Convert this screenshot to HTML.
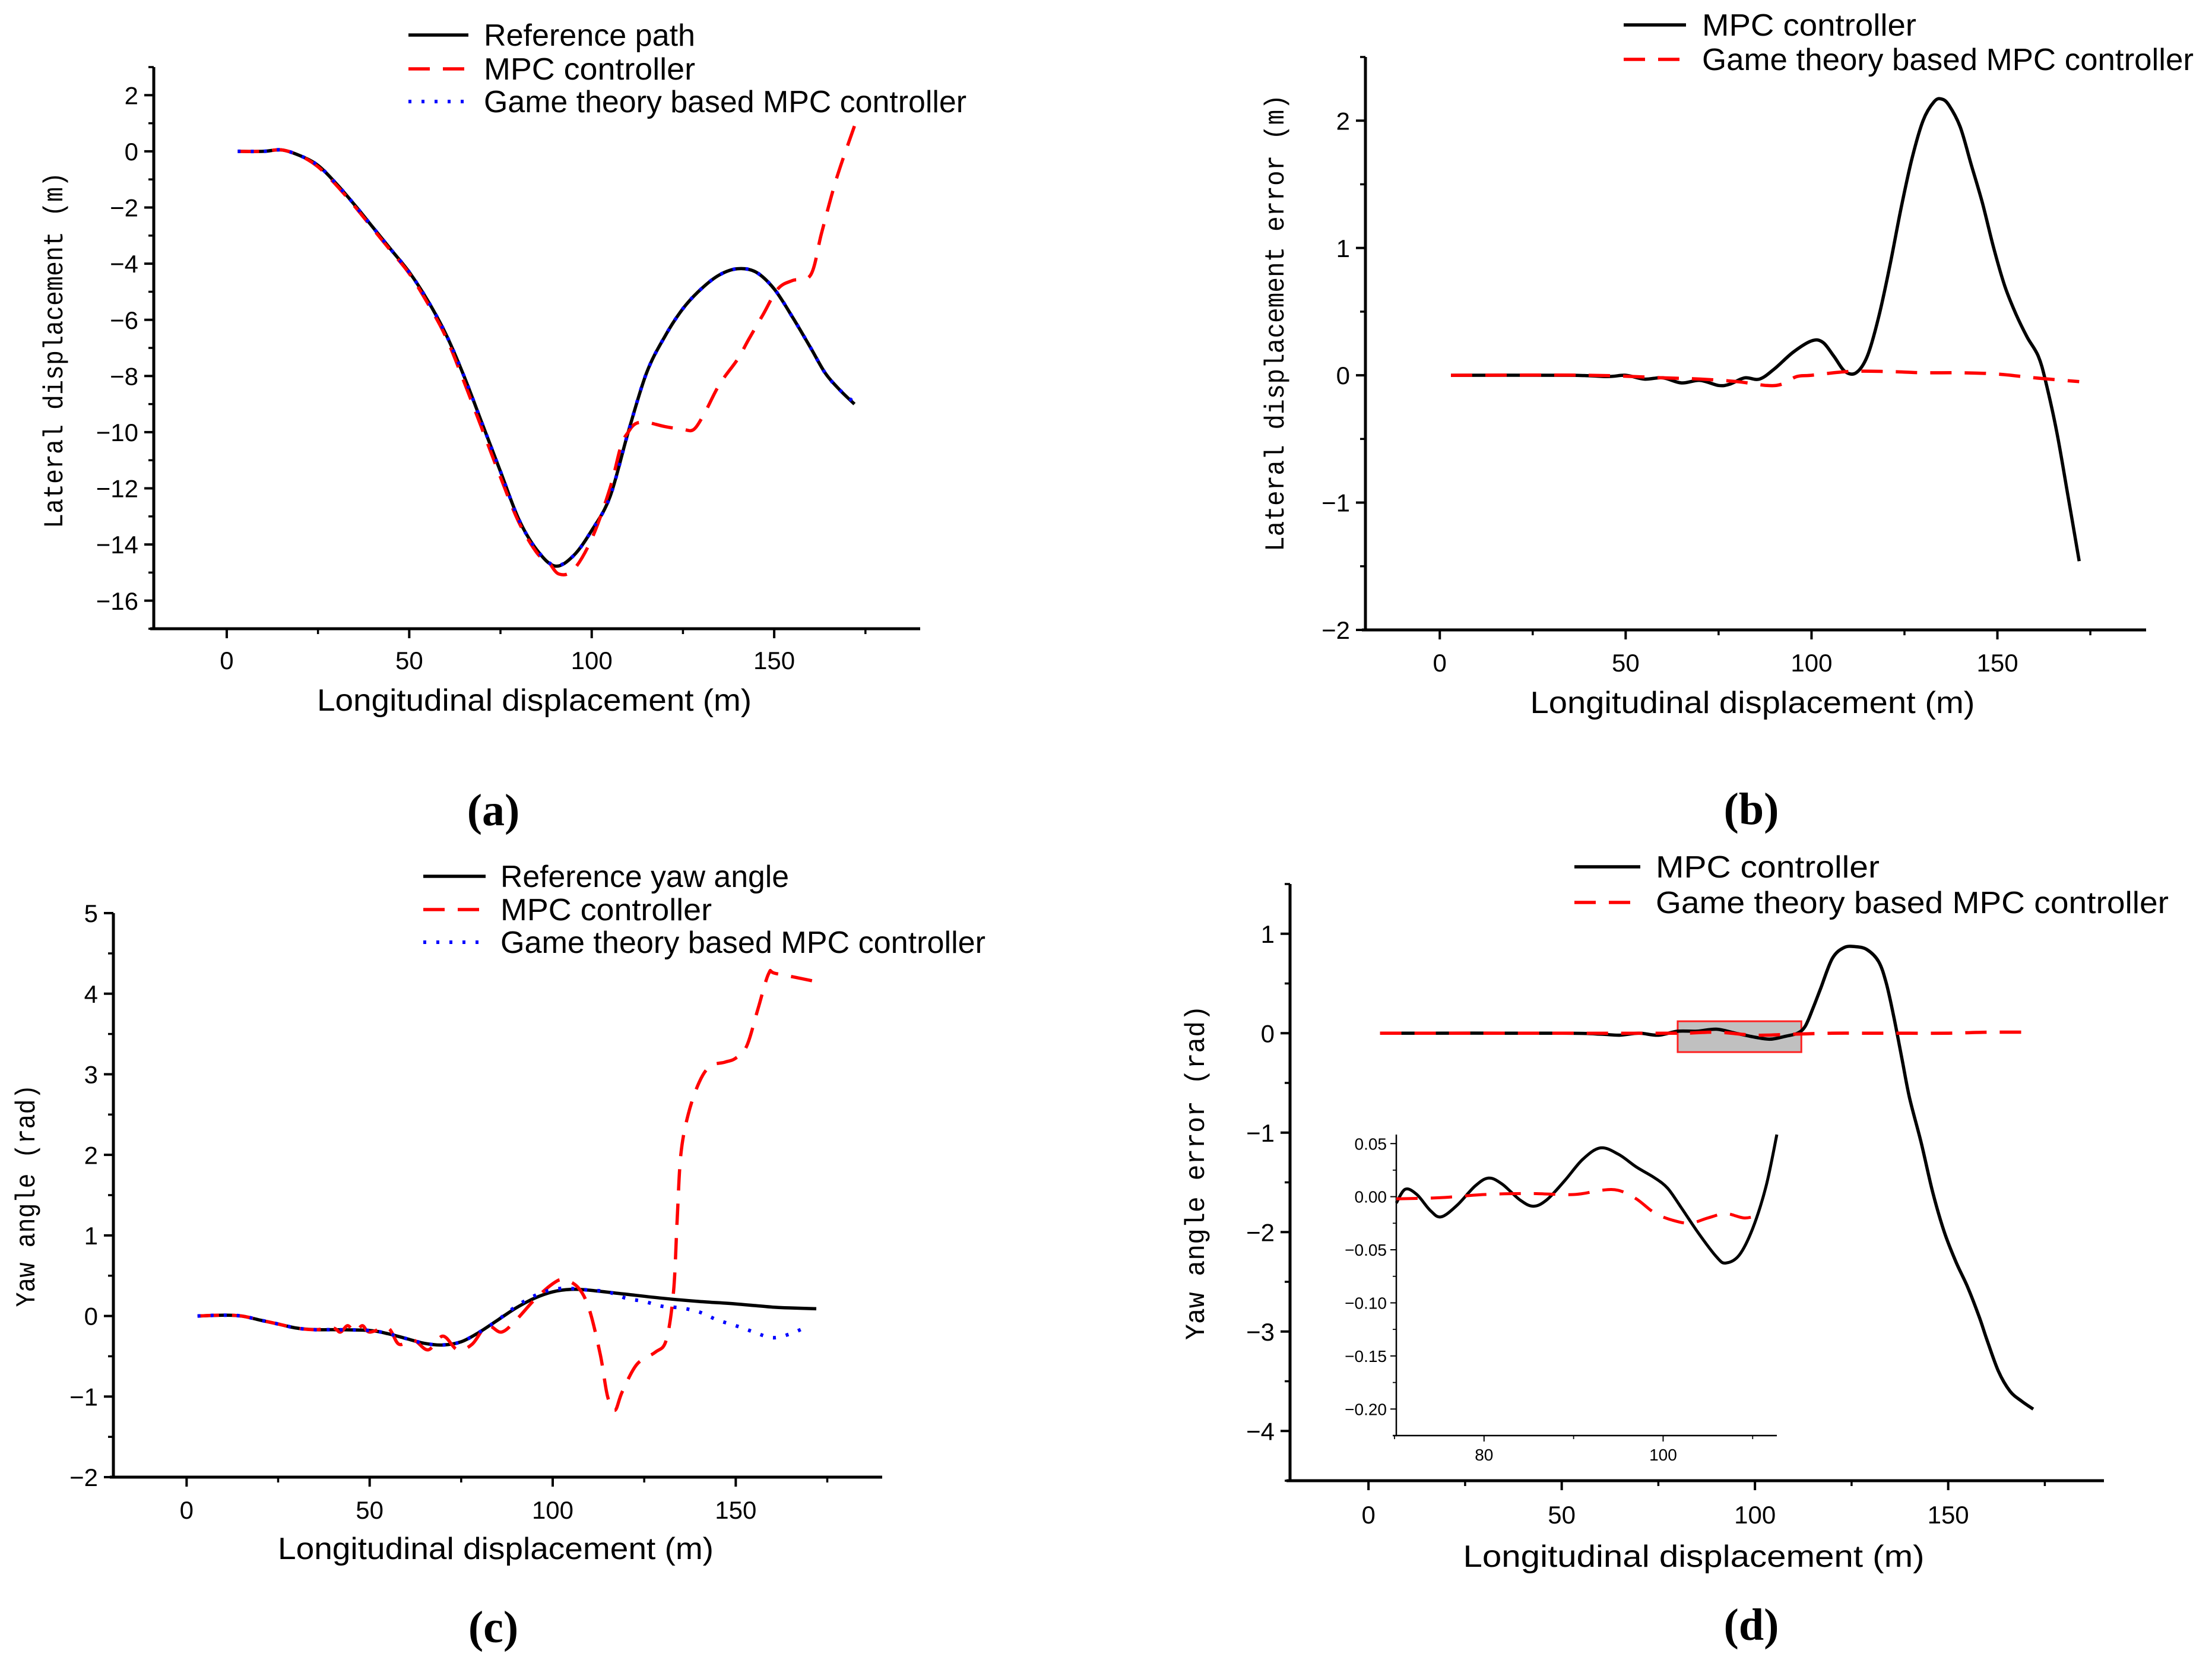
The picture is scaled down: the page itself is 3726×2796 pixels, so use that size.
<!DOCTYPE html>
<html><head><meta charset="utf-8"><style>html,body{margin:0;padding:0;background:#fff}svg{display:block}</style></head>
<body>
<svg id="fig" xmlns="http://www.w3.org/2000/svg" width="3726" height="2796" viewBox="0 0 3726 2796">
<rect width="3726" height="2796" fill="#fff"/>
</svg>
<script>
// ---------- data (a) ----------
const aRefX=[3,10,15,20,25,30,35,40,45,50,55,60,65,70,75,80,85,90,95,100,105,110,115,120,125,130,135,140,145,150,155,160,164,168,172];
const aRefY=[0,0,0.05,-0.15,-0.5,-1.15,-1.9,-2.7,-3.5,-4.3,-5.3,-6.5,-8.0,-9.7,-11.4,-13.1,-14.2,-14.77,-14.4,-13.5,-12.3,-10.0,-7.9,-6.6,-5.6,-4.9,-4.4,-4.18,-4.3,-4.9,-5.9,-7.0,-7.9,-8.5,-9.0];
const aMpcX=[3,10,15,20,25,30,35,40,45,50,55,60,65,70,75,80,85,88,91,95,100,105,108,110,112,115,120,125,128,131,135,140,143,147,151,155,160,163,167,172];
const aMpcY=[0,0,0.05,-0.15,-0.55,-1.2,-1.95,-2.75,-3.55,-4.35,-5.4,-6.6,-8.2,-9.9,-11.6,-13.2,-14.3,-14.6,-15.05,-14.9,-13.8,-12.0,-10.5,-10.0,-9.7,-9.65,-9.8,-9.9,-9.9,-9.3,-8.3,-7.4,-6.7,-5.8,-4.9,-4.6,-4.4,-2.9,-1.0,0.9];
const aGameX=aRefX;
const aGameY=[0,0,0.05,-0.15,-0.5,-1.15,-1.9,-2.7,-3.5,-4.3,-5.3,-6.5,-8.0,-9.7,-11.4,-13.1,-14.2,-14.75,-14.4,-13.5,-12.3,-10.0,-7.9,-6.6,-5.6,-4.9,-4.4,-4.18,-4.3,-4.9,-5.9,-7.0,-7.9,-8.5,-8.95];
// ---------- data (b) ----------
const bMpcX=[3,35,45,50,55,60,65,70,75,78,82,86,90,95,100,103,106,109,112,115,118,121,124,127,130,133,135,137,140,143,146,149,152,155,158,161,163,166,169,172];
const bMpcY=[0,0,-0.01,0,-0.03,-0.02,-0.06,-0.04,-0.08,-0.07,-0.02,-0.03,0.05,0.18,0.27,0.26,0.15,0.03,0.02,0.15,0.45,0.85,1.3,1.7,2.0,2.15,2.17,2.12,1.95,1.65,1.35,1.0,0.7,0.48,0.3,0.15,-0.05,-0.45,-0.95,-1.46];
const bGameX=[3,40,60,70,80,88,92,96,100,110,120,130,140,150,160,172];
const bGameY=[0,0,-0.02,-0.03,-0.05,-0.08,-0.07,-0.01,0,0.03,0.03,0.02,0.02,0.01,-0.02,-0.05];
// ---------- data (c) ----------
const cRefX=[3,10,15,20,25,30,35,40,50,55,60,65,70,75,80,85,90,95,100,105,110,120,130,140,150,160,165,172];
const cRefY=[0,0.01,0,-0.05,-0.1,-0.15,-0.17,-0.17,-0.18,-0.22,-0.28,-0.34,-0.36,-0.32,-0.2,-0.05,0.1,0.22,0.3,0.33,0.32,0.27,0.22,0.18,0.15,0.11,0.1,0.09];
const cMpcX=[3,10,15,20,25,30,35,40,42,44,46,48,50,55,58,62,66,70,74,78,82,86,90,95,100,103,107,110,113,115,117,119,123,128,131,133,134,135,137,140,143,147,150,153,156,159,161,172];
const cMpcY=[0,0.01,0,-0.05,-0.1,-0.15,-0.17,-0.15,-0.2,-0.12,-0.2,-0.12,-0.2,-0.15,-0.35,-0.3,-0.42,-0.25,-0.42,-0.35,-0.12,-0.2,-0.05,0.2,0.4,0.45,0.35,0.08,-0.48,-1.0,-1.17,-0.94,-0.6,-0.45,-0.3,0.3,1.2,2.0,2.5,2.9,3.1,3.15,3.2,3.35,3.8,4.25,4.25,4.15];
const cGameX=[3,10,15,20,25,30,35,40,50,55,60,65,70,75,80,85,90,95,100,105,110,115,120,125,130,135,140,145,150,155,160,165,170];
const cGameY=[0,0.01,0,-0.05,-0.1,-0.15,-0.17,-0.17,-0.18,-0.22,-0.28,-0.34,-0.36,-0.32,-0.2,-0.05,0.12,0.25,0.33,0.34,0.32,0.3,0.22,0.18,0.12,0.1,0.05,-0.05,-0.12,-0.2,-0.27,-0.22,-0.12];
// ---------- data (d) ----------
const dMpcX=[3,50,60,65,70,75,80,85,90,95,100,104,108,111,113,115,117,120,123,126,129,132,134,136,138,140,143,146,149,152,155,158,160,163,166,169,172];
const dMpcY=[0,0,-0.01,-0.02,0,-0.02,0.02,0.02,0.04,0,-0.04,-0.06,-0.03,0,0.07,0.25,0.45,0.75,0.86,0.87,0.84,0.72,0.5,0.15,-0.25,-0.65,-1.1,-1.6,-2.0,-2.3,-2.55,-2.85,-3.08,-3.4,-3.6,-3.7,-3.78];
const dGameX=[3,50,80,90,100,110,120,130,140,150,160,172];
const dGameY=[0,0,0,0.01,-0.02,-0.01,0,0,0,0,0.01,0.01];
const iMpcX=[70.2,71.2,72.5,74,75.2,77,79,80.5,82,84,85.5,87,89,91,93,95,97,99,100.5,102,104,106,107,108.5,110,111.5,112.7];
const iMpcY=[-0.006,0.007,0.002,-0.013,-0.019,-0.008,0.01,0.0175,0.012,-0.003,-0.009,-0.003,0.015,0.035,0.046,0.04,0.028,0.018,0.008,-0.01,-0.035,-0.057,-0.0625,-0.055,-0.03,0.01,0.0585];
const iGameX=[70.2,75,80,85,90,93,95,97,99,101,103,105,107,109,110.5];
const iGameY=[-0.002,-0.001,0.002,0.003,0.002,0.006,0.006,-0.002,-0.015,-0.022,-0.025,-0.02,-0.016,-0.02,-0.018];

const NS='http://www.w3.org/2000/svg';
const svg=document.getElementById('fig');
function mk(tag,attrs,parent){const e=document.createElementNS(NS,tag);for(const k in attrs)e.setAttribute(k,attrs[k]);(parent||svg).appendChild(e);return e;}
function txt(x,y,s,size,anchor,family,len,parent){const e=mk('text',{x:x,y:y,'font-size':size,'text-anchor':anchor||'start','font-family':family||'"Liberation Sans", sans-serif',fill:'#000'},parent);if(len){e.setAttribute('textLength',len);e.setAttribute('lengthAdjust','spacingAndGlyphs');}e.textContent=s;return e;}
function spline(pts){let d='M'+pts[0][0].toFixed(1)+','+pts[0][1].toFixed(1);for(let i=0;i<pts.length-1;i++){const p0=pts[i-1]||pts[i],p1=pts[i],p2=pts[i+1],p3=pts[i+2]||p2;const c1=[p1[0]+(p2[0]-p0[0])/6,p1[1]+(p2[1]-p0[1])/6],c2=[p2[0]-(p3[0]-p1[0])/6,p2[1]-(p3[1]-p1[1])/6];d+='C'+c1[0].toFixed(1)+','+c1[1].toFixed(1)+' '+c2[0].toFixed(1)+','+c2[1].toFixed(1)+' '+p2[0].toFixed(1)+','+p2[1].toFixed(1);}return d;}
const styles={black:{stroke:'#000','stroke-width':5.5},red:{stroke:'#ff0000','stroke-width':5.5,'stroke-dasharray':'36 22'},blue:{stroke:'#0000ff','stroke-width':6,'stroke-dasharray':'5 17'}};

function panel(p){
  const g=mk('g',{});
  
  
  const sx=v=>p.L+(v-p.x0)/(p.x1-p.x0)*(p.R-p.L);
  const sy=v=>p.B-(v-p.y0)/(p.y1-p.y0)*(p.B-p.T);
  const aw=p.aw||5,tk=p.tk||16,tm=p.tm||9;
  const ya=mk('line',{x1:p.L,y1:p.T,x2:p.L,y2:p.B+aw/2,stroke:'#000','stroke-width':aw},g);
  
  const xa=mk('line',{x1:p.L-6,y1:p.B,x2:p.R,y2:p.B,stroke:'#000','stroke-width':aw},g);
  
  p.xMinor.forEach(v=>{mk('line',{x1:sx(v),y1:p.B,x2:sx(v),y2:p.B+tm,stroke:'#000','stroke-width':aw*0.7},g);});
  p.yMinor.forEach(v=>{mk('line',{x1:p.L,y1:sy(v),x2:p.L-tm,y2:sy(v),stroke:'#000','stroke-width':aw*0.7},g);});
  p.xTicks.forEach((v,i)=>{mk('line',{x1:sx(v),y1:p.B,x2:sx(v),y2:p.B+tk,stroke:'#000','stroke-width':aw*0.8},g);
    const t=txt(sx(v),p.B+p.xlo,p.xLabels[i],p.fs,'middle',null,null,g);});
  p.yTicks.forEach((v,i)=>{mk('line',{x1:p.L,y1:sy(v),x2:p.L-tk,y2:sy(v),stroke:'#000','stroke-width':aw*0.8},g);
    const t=txt(p.L-tk-p.ylo,sy(v)+p.fs*0.36,p.yLabels[i],p.fs,'end',null,null,g);});
  if(p.rect){const r=mk('rect',{x:sx(p.rect[0]),y:sy(p.rect[3]),width:sx(p.rect[1])-sx(p.rect[0]),height:sy(p.rect[2])-sy(p.rect[3]),fill:'#c0c0c0',stroke:'#ff2020','stroke-width':3},g);}
  p.series.forEach(s=>{const pts=s.x.map((v,i)=>[sx(v),sy(s.y[i])]);
    const a=Object.assign({d:spline(pts),fill:'none','stroke-linejoin':'round'},styles[s.style]);if(p.lw)a['stroke-width']=p.lw;
    const e=mk('path',a,g);});
  if(p.xtitle){const t=txt(p.xtitle[1],p.xtitle[2],p.xtitle[0],52,'middle',null,p.xtitle[3],g);}
  if(p.ytitle){const [s,cx,cy,len]=p.ytitle;const t=txt(cx+16,cy,s,46,'middle','"Liberation Mono", monospace',len,g);t.setAttribute('transform','rotate(-90 '+(cx+16)+' '+cy+')');}
  if(p.legend){p.legend.rows.forEach(r=>{const lg=mk('g',{},g);
    const a=Object.assign({x1:p.legend.lx0,x2:p.legend.lx1,y1:r[0],y2:r[0]},styles[r[2]]);mk('line',a,lg);
    txt(p.legend.tx,r[0]+18,r[1],52,'start',null,r[3],lg);});}
  if(p.label){const t=txt(p.label[1],p.label[2],p.label[0],76,'middle','"Liberation Serif", serif',null,g);t.setAttribute('font-weight','bold');}
  return p;
}
const xT=[0,50,100,150],xL=['0','50','100','150'],xm=[25,75,125,175];
function rng(a,b,s){const r=[];for(let v=a;v<=b+1e-9;v+=s)r.push(+v.toFixed(4));return r;}

panel({name:'panel-a',L:259,R:1550,T:113,B:1059,x0:-20,x1:190,y0:-17,y1:3,fs:42,xlo:68,ylo:10,
 xTicks:xT,xLabels:xL,xMinor:xm,yTicks:rng(-16,2,2),yLabels:rng(-16,2,2).map(v=>v<0?'−'+(-v):''+v),yMinor:rng(-17,3,1),
 series:[{x:aRefX,y:aRefY,style:'black',name:'reference-path-line'},{x:aMpcX,y:aMpcY,style:'red',name:'mpc-controller-line'},{x:aGameX,y:aGameY,style:'blue',name:'game-theory-mpc-line'}],
 xtitle:['Longitudinal displacement (m)',900,1197,732],ytitle:['Lateral displacement (m)',89,590,600],
 legend:{lx0:688,lx1:789,tx:815,rows:[[59,'Reference path','black',356],[116,'MPC controller','red',356],[171,'Game theory based MPC controller','blue',813]]},
 label:['(a)',831,1390]});
panel({name:'panel-b',L:2300,R:3615,T:96,B:1061,x0:-20,x1:190,y0:-2,y1:2.5,fs:42,xlo:70,ylo:10,
 xTicks:xT,xLabels:xL,xMinor:xm,yTicks:[-2,-1,0,1,2],yLabels:['−2','−1','0','1','2'],yMinor:rng(-1.5,2.5,1),
 series:[{x:bMpcX,y:bMpcY,style:'black',name:'mpc-error-line'},{x:bGameX,y:bGameY,style:'red',name:'game-theory-error-line'}],
 xtitle:['Longitudinal displacement (m)',2952,1201,749],ytitle:['Lateral displacement error (m)',2146,544,770],
 legend:{lx0:2735,lx1:2840,tx:2867,rows:[[42,'MPC controller','black',361],[100,'Game theory based MPC controller','red',828]]},
 label:['(b)',2950,1388]});
panel({name:'panel-c',L:191,R:1486,T:1538,B:2488,x0:-20,x1:190,y0:-2,y1:5,fs:42,xlo:70,ylo:10,
 xTicks:xT,xLabels:xL,xMinor:xm,yTicks:rng(-2,5,1),yLabels:rng(-2,5,1).map(v=>v<0?'−'+(-v):''+v),yMinor:rng(-1.5,4.5,1),
 series:[{x:cRefX,y:cRefY,style:'black',name:'reference-yaw-line'},{x:cMpcX,y:cMpcY,style:'red',name:'mpc-yaw-line'},{x:cGameX,y:cGameY,style:'blue',name:'game-theory-yaw-line'}],
 xtitle:['Longitudinal displacement (m)',835,2626,734],ytitle:['Yaw angle (rad)',42,2014,375],
 legend:{lx0:713,lx1:818,tx:843,rows:[[1476,'Reference yaw angle','black',486],[1532,'MPC controller','red',356],[1587,'Game theory based MPC controller','blue',817]]},
 label:['(c)',831,2766]});
panel({name:'panel-d',L:2173,R:3544,T:1489,B:2494,x0:-20.3,x1:190.3,y0:-4.5,y1:1.5,fs:42,xlo:72,ylo:10,
 xTicks:xT,xLabels:xL,xMinor:xm,yTicks:rng(-4,1,1),yLabels:rng(-4,1,1).map(v=>v<0?'−'+(-v):''+v),yMinor:rng(-4.5,1.5,1),
 rect:[80,112,-0.19,0.12],
 series:[{x:dMpcX,y:dMpcY,style:'black',name:'mpc-yaw-error-line'},{x:dGameX,y:dGameY,style:'red',name:'game-theory-yaw-error-line'}],
 xtitle:['Longitudinal displacement (m)',2853,2639,777],ytitle:['Yaw angle error (rad)',2012,1975,564],
 legend:{lx0:2652,lx1:2763,tx:2789,rows:[[1460,'MPC controller','black',377],[1520,'Game theory based MPC controller','red',864]]},
 label:['(d)',2950,2762]});
panel({name:'inset-d',L:2352,R:2993,T:1911,B:2418,x0:70.2,x1:112.7,y0:-0.225,y1:0.0585,fs:28,xlo:42,ylo:6,aw:2.5,tk:10,tm:6,lw:5,
 xTicks:[80,100],xLabels:['80','100'],xMinor:[70,90,110],yTicks:[-0.2,-0.15,-0.1,-0.05,0,0.05],yLabels:['−0.20','−0.15','−0.10','−0.05','0.00','0.05'],yMinor:[-0.225,-0.175,-0.125,-0.075,-0.025,0.025],
 series:[{x:iMpcX,y:iMpcY,style:'black',name:'inset-mpc-line'},{x:iGameX,y:iGameY,style:'red',name:'inset-game-theory-line'}]});
</script>
</body></html>
